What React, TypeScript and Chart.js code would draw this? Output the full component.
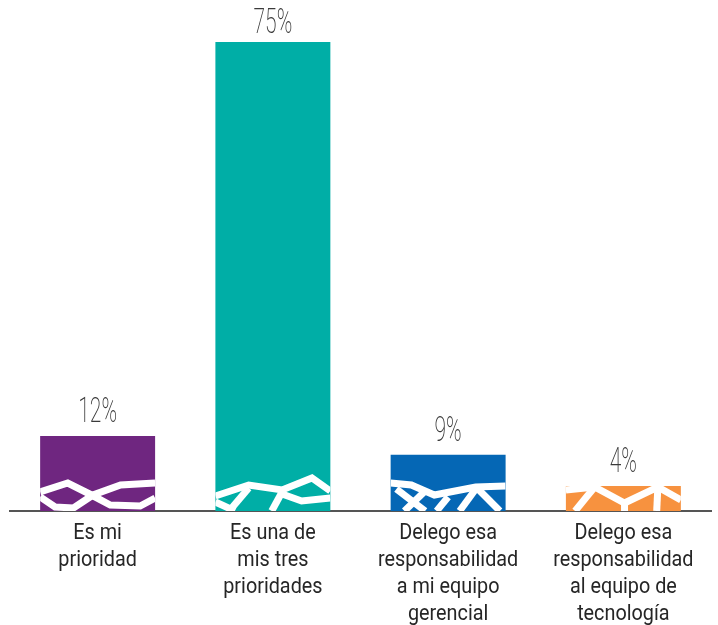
import React, { useEffect, useRef } from "react";
import { Chart, registerables } from "chart.js";

Chart.register(...registerables);

const categories: string[][] = [
  ["Es mi", "prioridad"],
  ["Es una de", "mis tres", "prioridades"],
  ["Delego esa", "responsabilidad", "a mi equipo", "gerencial"],
  ["Delego esa", "responsabilidad", "al equipo de", "tecnología"],
];
const values: number[] = [12, 75, 9, 4];
const valueLabels: string[] = ["12%", "75%", "9%", "4%"];
const barColors: string[] = ["#6f2680", "#00aea6", "#0567b5", "#f7923f"];

// decorative white zigzag strokes: [fraction of bar width, px above base]
const zigzags: number[][][][] = [
  [
    [[0, 19], [0.24, 28], [0.43, 17], [0.61, 6], [0.87, 5], [1, 13]],
    [[0, 14], [0.13, 4], [0.29, 3], [0.46, 16], [0.7, 26], [1, 28]],
  ],
  [
    [[0, 15], [0.29, 26], [0.58, 21], [0.84, 33], [1, 20]],
    [[0, 9], [0.17, 0]],
    [[0.12, 0], [0.29, 23]],
    [[0.58, 19], [0.49, 0]],
    [[0.58, 17], [0.75, 10], [1, 13]],
  ],
  [
    [[0, 28], [0.18, 26], [0.38, 16], [0.74, 24], [1, 25]],
    [[0.05, 22], [0.3, 0]],
    [[0.3, 20], [0.12, 0]],
    [[0.4, 0], [0.5, 14]],
    [[0.74, 22], [0.6, 0]],
    [[0.76, 22], [0.95, 0]],
  ],
  [
    [[0, 21], [0.25, 24], [0.51, 8], [0.8, 24], [1, 11]],
    [[0.25, 24], [0.08, 0]],
    [[0.51, 8], [0.51, 0]],
    [[0.8, 24], [0.79, 0]],
  ],
];

const decorPlugin = {
  id: "decor",
  afterDatasetsDraw(chart: any) {
    const ctx = chart.ctx as CanvasRenderingContext2D;
    const meta = chart.getDatasetMeta(0);
    meta.data.forEach((bar: any, i: number) => {
      const { x, y, base, width } = bar.getProps(["x", "y", "base", "width"], true);
      const left = x - width / 2;
      ctx.save();
      ctx.beginPath();
      ctx.rect(left, y, width, base - y);
      ctx.clip();
      ctx.strokeStyle = "#ffffff";
      ctx.lineWidth = 7;
      ctx.lineJoin = "miter";
      (zigzags[i] || []).forEach((line) => {
        ctx.beginPath();
        line.forEach(([fx, h], k) => {
          const px = left + fx * width;
          const py = base - h;
          if (k === 0) ctx.moveTo(px, py);
          else ctx.lineTo(px, py);
        });
        ctx.stroke();
      });
      ctx.restore();

      // value label
      ctx.save();
      ctx.fillStyle = "#3a3a3a";
      ctx.font = "200 35px Roboto, sans-serif";
      ctx.textAlign = "center";
      ctx.textBaseline = "alphabetic";
      const ly = Math.max(y - 14, 33);
      ctx.translate(x, ly);
      ctx.scale(0.6, 1);
      ctx.fillText(valueLabels[i], 0, 0);
      ctx.restore();
    });
  },
  afterDraw(chart: any) {
    const ctx = chart.ctx as CanvasRenderingContext2D;
    const xs = chart.scales.x;
    const top = xs.top;
    categories.forEach((lines, i) => {
      const cx = xs.getPixelForTick(i);
      lines.forEach((t, k) => {
        ctx.save();
        ctx.fillStyle = "#262626";
        ctx.font = "400 22px Roboto, sans-serif";
        ctx.textAlign = "center";
        ctx.textBaseline = "middle";
        ctx.translate(cx, top + 22 + k * 27);
        ctx.scale(0.9, 1);
        ctx.fillText(t, 0, 0);
        ctx.restore();
      });
    });
  },
};

export default function App() {
  const ref = useRef<HTMLCanvasElement | null>(null);
  useEffect(() => {
    document.body.style.margin = "0";
    if (!ref.current) return;
    const chart = new Chart(ref.current, {
      type: "bar",
      data: {
        labels: categories,
        datasets: [
          {
            data: values,
            backgroundColor: barColors,
            borderWidth: 0,
            categoryPercentage: 1,
            barPercentage: 0.656,
          },
        ],
      },
      options: {
        responsive: false,
        animation: false,
        layout: { padding: { top: 42, left: 10, right: 7, bottom: 0 } },
        plugins: { legend: { display: false }, tooltip: { enabled: false } },
        scales: {
          y: { display: false, min: 0, max: 75 },
          x: {
            grid: { display: false, drawTicks: false },
            border: { display: true, color: "#555555", width: 2 },
            ticks: {
              color: "rgba(0,0,0,0)",
              padding: 8,
              maxRotation: 0,
              autoSkip: false,
              font: { family: "Roboto, sans-serif", size: 20, lineHeight: 1.25 },
            },
            afterFit: (scale: any) => {
              scale.height = 114;
            },
          },
        },
      },
      plugins: [decorPlugin],
    });
    return () => chart.destroy();
  }, []);
  return <canvas ref={ref} width={718} height={625} style={{ display: "block" }} />;
}
